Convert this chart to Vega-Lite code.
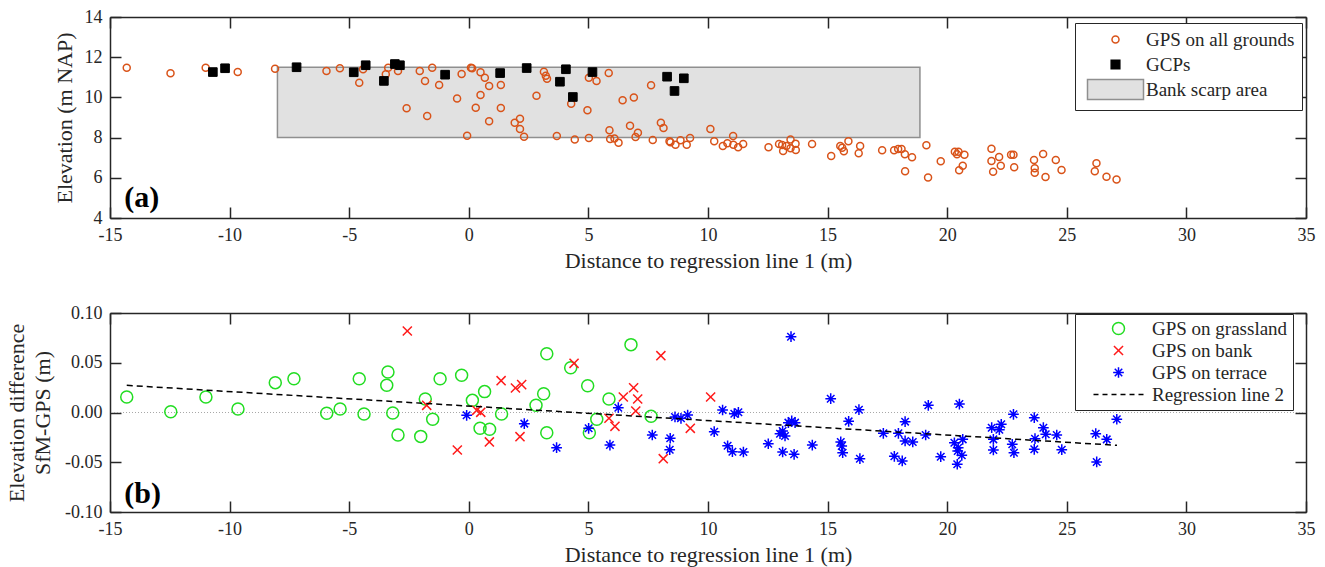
{
  "$schema": "https://vega.github.io/schema/vega-lite/v6.json",
  "padding": {"left": 5, "top": 8, "right": 10, "bottom": 5},
  "spacing": 33,
  "resolve": {"scale": {"fill": "independent", "stroke": "independent", "shape": "independent", "size": "independent"},
    "legend": {"fill": "independent", "stroke": "independent", "shape": "independent", "size": "independent"}},
  "config": {
    "font": "Liberation Serif",
    "view": {"stroke": null},
    "axis": {
      "labelFont": "Liberation Serif", "labelFontSize": 18, "labelColor": "#262626",
      "titleFont": "Liberation Serif", "titleFontSize": 22, "titleFontWeight": "normal", "titleColor": "#262626",
      "domainColor": "#262626", "domainWidth": 1.5, "tickColor": "#262626", "tickWidth": 1.5,
      "tickSize": -11, "grid": false, "labelFlush": false, "labelOverlap": false, "labelPadding": 19
    },
    "legend": {
      "labelFont": "Liberation Serif", "labelFontSize": 19, "labelColor": "#262626",
      "strokeColor": "#262626", "fillColor": "white",
      "symbolStrokeWidth": 1.5, "labelLimit": 400
    }
  },
  "datasets": {
    "gps": [
      {"x": -14.3, "y": 11.48}, {"x": -12.47, "y": 11.2}, {"x": -11.0, "y": 11.48}, {"x": -9.66, "y": 11.26},
      {"x": -8.1, "y": 11.43}, {"x": -5.95, "y": 11.31}, {"x": -5.39, "y": 11.45}, {"x": -4.58, "y": 10.73},
      {"x": -4.42, "y": 11.4}, {"x": -3.47, "y": 11.15}, {"x": -3.37, "y": 11.48}, {"x": -2.96, "y": 11.31},
      {"x": -2.6, "y": 9.46}, {"x": -2.05, "y": 11.31}, {"x": -1.83, "y": 10.82}, {"x": -1.74, "y": 9.07},
      {"x": -1.53, "y": 11.48}, {"x": -1.24, "y": 10.62}, {"x": -0.49, "y": 9.94}, {"x": -0.3, "y": 11.16},
      {"x": -0.07, "y": 8.09}, {"x": 0.09, "y": 11.48}, {"x": 0.14, "y": 11.45}, {"x": 0.29, "y": 9.49},
      {"x": 0.49, "y": 11.25}, {"x": 0.49, "y": 10.12}, {"x": 0.67, "y": 10.98}, {"x": 0.85, "y": 10.57},
      {"x": 0.85, "y": 8.81}, {"x": 1.34, "y": 10.62}, {"x": 1.34, "y": 9.47}, {"x": 1.92, "y": 8.74},
      {"x": 2.14, "y": 8.94}, {"x": 2.14, "y": 8.43}, {"x": 2.31, "y": 8.04}, {"x": 2.83, "y": 10.08},
      {"x": 3.14, "y": 11.28}, {"x": 3.22, "y": 11.08}, {"x": 3.27, "y": 10.93}, {"x": 3.68, "y": 8.08},
      {"x": 4.28, "y": 9.69}, {"x": 4.43, "y": 7.9}, {"x": 4.96, "y": 9.36}, {"x": 5.02, "y": 10.98},
      {"x": 5.02, "y": 7.98}, {"x": 5.34, "y": 10.82}, {"x": 5.85, "y": 11.21}, {"x": 5.88, "y": 8.36},
      {"x": 5.91, "y": 7.93}, {"x": 6.09, "y": 7.96}, {"x": 6.26, "y": 7.75}, {"x": 6.43, "y": 9.86},
      {"x": 6.74, "y": 8.59}, {"x": 6.9, "y": 9.99}, {"x": 6.97, "y": 8.03}, {"x": 7.07, "y": 8.24},
      {"x": 7.62, "y": 10.6}, {"x": 7.69, "y": 7.88}, {"x": 8.03, "y": 8.74}, {"x": 8.14, "y": 8.48},
      {"x": 8.39, "y": 7.82}, {"x": 8.43, "y": 7.77}, {"x": 8.64, "y": 7.65}, {"x": 8.85, "y": 7.87},
      {"x": 9.11, "y": 7.65}, {"x": 9.25, "y": 7.98}, {"x": 10.1, "y": 8.43}, {"x": 10.26, "y": 7.82},
      {"x": 10.62, "y": 7.58}, {"x": 10.81, "y": 7.72}, {"x": 11.05, "y": 8.08}, {"x": 11.06, "y": 7.65},
      {"x": 11.26, "y": 7.52}, {"x": 11.47, "y": 7.68}, {"x": 12.53, "y": 7.52}, {"x": 12.97, "y": 7.68},
      {"x": 13.1, "y": 7.63}, {"x": 13.14, "y": 7.33}, {"x": 13.28, "y": 7.58}, {"x": 13.45, "y": 7.9},
      {"x": 13.45, "y": 7.47}, {"x": 13.66, "y": 7.7}, {"x": 13.67, "y": 7.38}, {"x": 14.35, "y": 7.68},
      {"x": 15.15, "y": 7.08}, {"x": 15.53, "y": 7.58}, {"x": 15.61, "y": 7.5}, {"x": 15.68, "y": 7.32},
      {"x": 15.87, "y": 7.82}, {"x": 16.3, "y": 7.22}, {"x": 16.36, "y": 7.58}, {"x": 17.28, "y": 7.37},
      {"x": 17.78, "y": 7.37}, {"x": 17.95, "y": 7.43}, {"x": 18.09, "y": 7.43}, {"x": 18.23, "y": 7.17},
      {"x": 18.24, "y": 6.32}, {"x": 18.53, "y": 7.02}, {"x": 19.13, "y": 7.62}, {"x": 19.2, "y": 6.02},
      {"x": 19.73, "y": 6.82}, {"x": 20.32, "y": 7.3}, {"x": 20.47, "y": 7.3}, {"x": 20.41, "y": 7.17},
      {"x": 20.72, "y": 7.15}, {"x": 20.65, "y": 6.6}, {"x": 20.5, "y": 6.37}, {"x": 21.85, "y": 7.45},
      {"x": 22.17, "y": 7.03}, {"x": 21.85, "y": 6.84}, {"x": 22.24, "y": 6.6}, {"x": 21.92, "y": 6.3},
      {"x": 22.67, "y": 7.15}, {"x": 22.77, "y": 7.15}, {"x": 22.8, "y": 6.52}, {"x": 23.63, "y": 6.89},
      {"x": 24.01, "y": 7.18}, {"x": 23.66, "y": 6.47}, {"x": 23.66, "y": 6.25}, {"x": 24.11, "y": 6.04},
      {"x": 24.54, "y": 6.89}, {"x": 24.78, "y": 6.39}, {"x": 26.24, "y": 6.72}, {"x": 26.17, "y": 6.32},
      {"x": 26.66, "y": 6.05}, {"x": 27.08, "y": 5.91}
    ],
    "gcp": [
      {"x": -10.7, "y": 11.26}, {"x": -10.19, "y": 11.45}, {"x": -7.2, "y": 11.5}, {"x": -4.81, "y": 11.25},
      {"x": -4.31, "y": 11.6}, {"x": -3.55, "y": 10.82}, {"x": -3.09, "y": 11.66}, {"x": -2.88, "y": 11.6},
      {"x": -0.99, "y": 11.13}, {"x": 1.31, "y": 11.21}, {"x": 2.42, "y": 11.46}, {"x": 3.81, "y": 10.78},
      {"x": 4.06, "y": 11.4}, {"x": 4.35, "y": 10.02}, {"x": 5.17, "y": 11.26}, {"x": 8.29, "y": 11.03},
      {"x": 8.6, "y": 10.32}, {"x": 8.99, "y": 10.95}
    ],
    "scarp": [{"x1": -8.0, "x2": 18.86, "y1": 8.0, "y2": 11.5}],
    "grass": [
      {"x": -14.3, "y": 0.0156}, {"x": -12.46, "y": 0.0008}, {"x": -10.99, "y": 0.0156}, {"x": -9.65, "y": 0.0035},
      {"x": -8.09, "y": 0.030}, {"x": -7.31, "y": 0.034}, {"x": -5.94, "y": -0.0008}, {"x": -5.38, "y": 0.0035},
      {"x": -4.58, "y": 0.034}, {"x": -4.38, "y": -0.0015}, {"x": -3.38, "y": 0.0407}, {"x": -3.43, "y": 0.0273},
      {"x": -3.18, "y": -0.0005}, {"x": -2.96, "y": -0.0226}, {"x": -2.01, "y": -0.024}, {"x": -1.82, "y": 0.0136},
      {"x": -1.51, "y": -0.0068}, {"x": -1.2, "y": 0.034}, {"x": -0.3, "y": 0.0374}, {"x": 0.15, "y": 0.0122},
      {"x": 0.66, "y": 0.021}, {"x": 0.47, "y": -0.0159}, {"x": 0.87, "y": -0.0169}, {"x": 1.37, "y": -0.0015},
      {"x": 2.81, "y": 0.0072}, {"x": 3.13, "y": 0.0189}, {"x": 3.26, "y": 0.0591}, {"x": 3.26, "y": -0.0203},
      {"x": 4.26, "y": 0.045}, {"x": 4.97, "y": 0.0269}, {"x": 5.04, "y": -0.0203}, {"x": 5.35, "y": -0.0068},
      {"x": 5.86, "y": 0.0136}, {"x": 6.78, "y": 0.0682}, {"x": 7.62, "y": -0.0038}
    ],
    "bank": [
      {"x": -2.57, "y": 0.0819}, {"x": -1.76, "y": 0.0072}, {"x": -0.48, "y": -0.0377}, {"x": 0.33, "y": 0.0022},
      {"x": 0.5, "y": 0.0002}, {"x": 0.86, "y": -0.0296}, {"x": 1.35, "y": 0.032}, {"x": 1.95, "y": 0.0246},
      {"x": 2.21, "y": 0.028}, {"x": 2.14, "y": -0.0243}, {"x": 4.4, "y": 0.0494}, {"x": 8.03, "y": 0.0571},
      {"x": 6.89, "y": 0.0249}, {"x": 6.46, "y": 0.0156}, {"x": 7.06, "y": 0.0136}, {"x": 6.98, "y": 0.0015},
      {"x": 5.86, "y": -0.0058}, {"x": 6.11, "y": -0.0139}, {"x": 10.11, "y": 0.0156}, {"x": 9.26, "y": -0.0159},
      {"x": 8.13, "y": -0.0464}
    ],
    "terrace": [
      {"x": -0.09, "y": -0.0028}, {"x": 2.32, "y": -0.0112}, {"x": 3.67, "y": -0.0354}, {"x": 5.01, "y": -0.0159},
      {"x": 6.25, "y": 0.0048}, {"x": 5.9, "y": -0.0327}, {"x": 7.67, "y": -0.0226}, {"x": 8.42, "y": -0.0259},
      {"x": 8.4, "y": -0.0374}, {"x": 8.62, "y": -0.0045}, {"x": 8.87, "y": -0.0058}, {"x": 9.15, "y": -0.0025},
      {"x": 10.26, "y": -0.0193}, {"x": 10.61, "y": 0.0025}, {"x": 11.1, "y": -0.0012}, {"x": 11.27, "y": 0.0002},
      {"x": 10.82, "y": -0.0334}, {"x": 11.02, "y": -0.0394}, {"x": 11.48, "y": -0.0397}, {"x": 12.52, "y": -0.0314},
      {"x": 13.47, "y": 0.0762}, {"x": 15.13, "y": 0.0139}, {"x": 16.31, "y": 0.0028}, {"x": 15.88, "y": -0.0089},
      {"x": 18.24, "y": -0.0092}, {"x": 19.21, "y": 0.0072}, {"x": 20.51, "y": 0.0085}, {"x": 13.5, "y": -0.0085},
      {"x": 13.64, "y": -0.0102}, {"x": 13.36, "y": -0.0102}, {"x": 13.12, "y": -0.0186}, {"x": 13.01, "y": -0.0213},
      {"x": 13.22, "y": -0.0236}, {"x": 13.12, "y": -0.0397}, {"x": 13.6, "y": -0.042}, {"x": 14.36, "y": -0.0327},
      {"x": 15.55, "y": -0.0296}, {"x": 15.59, "y": -0.0337}, {"x": 15.63, "y": -0.0404}, {"x": 16.35, "y": -0.0464},
      {"x": 17.33, "y": -0.0209}, {"x": 17.96, "y": -0.0209}, {"x": 18.24, "y": -0.0286}, {"x": 18.56, "y": -0.0296},
      {"x": 17.79, "y": -0.044}, {"x": 18.12, "y": -0.0487}, {"x": 19.1, "y": -0.0226}, {"x": 19.73, "y": -0.0444},
      {"x": 20.3, "y": -0.0304}, {"x": 20.46, "y": -0.0354}, {"x": 20.65, "y": -0.027}, {"x": 20.61, "y": -0.043},
      {"x": 20.42, "y": -0.052}, {"x": 20.44, "y": -0.0387}, {"x": 21.86, "y": -0.0153}, {"x": 21.93, "y": -0.027},
      {"x": 21.93, "y": -0.0377}, {"x": 22.18, "y": -0.0173}, {"x": 22.26, "y": -0.0119}, {"x": 22.77, "y": -0.0018},
      {"x": 22.72, "y": -0.032}, {"x": 22.79, "y": -0.0404}, {"x": 23.64, "y": -0.0052}, {"x": 23.67, "y": -0.0263},
      {"x": 23.64, "y": -0.037}, {"x": 24.02, "y": -0.0153}, {"x": 24.12, "y": -0.0219}, {"x": 24.58, "y": -0.0226},
      {"x": 24.79, "y": -0.0374}, {"x": 26.21, "y": -0.0213}, {"x": 26.25, "y": -0.0497}, {"x": 26.67, "y": -0.027},
      {"x": 27.09, "y": -0.0068}
    ],
    "reg": [{"x": -14.3, "y": 0.0273}, {"x": 27.1, "y": -0.033}]
  },
  "vconcat": [
    {
      "width": 1196,
      "height": 201,
      "resolve": {"axis": {"x": "independent", "y": "independent"}},
      "layer": [
        {
          "data": {"name": "scarp"},
          "mark": {"type": "rect", "fill": "#e1e1e1", "stroke": "#8f8f8f", "strokeWidth": 1.5},
          "encoding": {
            "x": {"field": "x1", "type": "quantitative", "scale": {"domain": [-15, 35], "nice": false, "zero": false},
              "axis": {"orient": "bottom", "values": [-15, -10, -5, 0, 5, 10, 15, 20, 25, 30, 35], "title": "Distance to regression line 1 (m)", "titlePadding": 6,
                "labelExpr": "datum.value < 0 ? '-' + (-datum.value) : '' + datum.value"}},
            "x2": {"field": "x2"},
            "y": {"field": "y1", "type": "quantitative", "scale": {"domain": [4, 14], "nice": false, "zero": false},
              "axis": {"orient": "left", "values": [4, 6, 8, 10, 12, 14], "title": "Elevation (m NAP)", "titlePadding": 8}},
            "y2": {"field": "y2"}
          }
        },
        {
          "data": {"name": "gps"},
          "transform": [{"calculate": "'GPS on all grounds'", "as": "series"}],
          "mark": {"type": "point", "strokeWidth": 1.5, "opacity": 1},
          "encoding": {
            "x": {"field": "x", "type": "quantitative", "axis": {"orient": "top", "values": [-15, -10, -5, 0, 5, 10, 15, 20, 25, 30, 35], "labels": false, "title": null}},
            "y": {"field": "y", "type": "quantitative", "axis": {"orient": "right", "values": [4, 6, 8, 10, 12, 14], "labels": false, "title": null}},
            "fill": {"field": "series", "type": "nominal", "scale": {"domain": ["GPS on all grounds", "GCPs", "Bank scarp area"], "range": ["transparent", "black", "#e1e1e1"]},
              "legend": {"title": null, "orient": "none", "legendX": 965, "legendY": 6, "padding": 7, "symbolOffset": 24, "labelOffset": 21, "rowPadding": -2, "gridAlign": "all"}},
            "stroke": {"field": "series", "type": "nominal", "scale": {"domain": ["GPS on all grounds", "GCPs", "Bank scarp area"], "range": ["#d95319", "black", "#8f8f8f"]},
              "legend": {"title": null, "orient": "none", "legendX": 965, "legendY": 6, "padding": 7, "symbolOffset": 24, "labelOffset": 21, "rowPadding": -2, "gridAlign": "all"}},
            "shape": {"field": "series", "type": "nominal", "scale": {"domain": ["GPS on all grounds", "GCPs", "Bank scarp area"], "range": ["circle", "square", "M-5.6,-2H5.6V2H-5.6Z"]},
              "legend": {"title": null, "orient": "none", "legendX": 965, "legendY": 6, "padding": 7, "symbolOffset": 24, "labelOffset": 21, "rowPadding": -2, "gridAlign": "all"}},
            "size": {"field": "series", "type": "nominal", "scale": {"domain": ["GPS on all grounds", "GCPs", "Bank scarp area"], "range": [49, 100, 100]},
              "legend": {"title": null, "orient": "none", "legendX": 965, "legendY": 6, "padding": 7, "symbolOffset": 24, "labelOffset": 21, "rowPadding": -2, "gridAlign": "all"}}
          }
        },
        {
          "data": {"name": "gcp"},
          "transform": [{"calculate": "'GCPs'", "as": "series"}],
          "mark": {"type": "point", "strokeWidth": 1, "opacity": 1},
          "encoding": {
            "x": {"field": "x", "type": "quantitative", "axis": null},
            "y": {"field": "y", "type": "quantitative", "axis": null},
            "fill": {"field": "series", "type": "nominal"},
            "stroke": {"field": "series", "type": "nominal"},
            "shape": {"field": "series", "type": "nominal"},
            "size": {"field": "series", "type": "nominal"}
          }
        },
        {
          "data": {"values": [{"x": -14.4, "y": 5.0, "t": "(a)"}]},
          "mark": {"type": "text", "font": "Liberation Serif", "fontSize": 30, "fontWeight": "bold", "align": "left", "baseline": "middle", "color": "black"},
          "encoding": {
            "x": {"field": "x", "type": "quantitative", "axis": null},
            "y": {"field": "y", "type": "quantitative", "axis": null},
            "text": {"field": "t"}
          }
        }
      ]
    },
    {
      "width": 1196,
      "height": 199,
      "resolve": {"axis": {"x": "independent", "y": "independent"}},
      "layer": [
        {
          "data": {"values": [{"y0": 0}]},
          "mark": {"type": "rule", "stroke": "#a8a8a8", "strokeWidth": 1, "strokeDash": [1, 2]},
          "encoding": {
            "y": {"field": "y0", "type": "quantitative", "scale": {"domain": [-0.1, 0.1], "nice": false, "zero": false}, "axis": null}
          }
        },
        {
          "data": {"name": "grass"},
          "transform": [{"calculate": "'GPS on grassland'", "as": "series"}],
          "mark": {"type": "point", "filled": false, "strokeWidth": 1.5, "opacity": 1},
          "encoding": {
            "x": {"field": "x", "type": "quantitative", "scale": {"domain": [-15, 35], "nice": false, "zero": false},
              "axis": {"orient": "bottom", "values": [-15, -10, -5, 0, 5, 10, 15, 20, 25, 30, 35], "title": "Distance to regression line 1 (m)", "titlePadding": 6,
                "labelExpr": "datum.value < 0 ? '-' + (-datum.value) : '' + datum.value"}},
            "y": {"field": "y", "type": "quantitative",
              "axis": {"orient": "left", "values": [-0.1, -0.05, 0, 0.05, 0.1], "title": ["Elevation difference", "SfM-GPS (m)"], "titleLineHeight": 26, "titlePadding": 10,
                "labelExpr": "datum.value < 0 ? '-' + format(-datum.value, '.2f') : format(datum.value, '.2f')"}},
            "stroke": {"field": "series", "type": "nominal", "scale": {"domain": ["GPS on grassland", "GPS on bank", "GPS on terrace", "Regression line 2"], "range": ["#22dd22", "#ff1a1a", "#0000ff", "black"]},
              "legend": {"title": null, "orient": "none", "legendX": 965, "legendY": 1, "padding": 5, "symbolOffset": 29, "labelOffset": 24, "rowPadding": 2, "symbolFillColor": "transparent"}},
            "shape": {"field": "series", "type": "nominal", "scale": {"domain": ["GPS on grassland", "GPS on bank", "GPS on terrace", "Regression line 2"],
                "range": ["circle", "M-0.8,-0.8L0.8,0.8M-0.8,0.8L0.8,-0.8", "M-1,0H1M0,-1V1M-0.7,-0.7L0.7,0.7M-0.7,0.7L0.7,-0.7", "M-5,0H-4M-3.2,0H-2.2M-1.4,0H-0.4M0.4,0H1.4M2.2,0H3.2M4,0H5"]},
              "legend": {"title": null, "orient": "none", "legendX": 965, "legendY": 1, "padding": 5, "symbolOffset": 29, "labelOffset": 24, "rowPadding": 2, "symbolFillColor": "transparent"}},
            "size": {"field": "series", "type": "nominal", "scale": {"domain": ["GPS on grassland", "GPS on bank", "GPS on terrace", "Regression line 2"], "range": [144, 100, 150, 144]},
              "legend": {"title": null, "orient": "none", "legendX": 965, "legendY": 1, "padding": 5, "symbolOffset": 29, "labelOffset": 24, "rowPadding": 2, "symbolFillColor": "transparent"}}
          }
        },
        {
          "data": {"name": "bank"},
          "transform": [{"calculate": "'GPS on bank'", "as": "series"}],
          "mark": {"type": "point", "filled": false, "strokeWidth": 1.5, "opacity": 1},
          "encoding": {
            "x": {"field": "x", "type": "quantitative", "axis": null},
            "y": {"field": "y", "type": "quantitative", "axis": null},
            "stroke": {"field": "series", "type": "nominal"},
            "shape": {"field": "series", "type": "nominal"},
            "size": {"field": "series", "type": "nominal"}
          }
        },
        {
          "data": {"name": "terrace"},
          "transform": [{"calculate": "'GPS on terrace'", "as": "series"}],
          "mark": {"type": "point", "filled": false, "strokeWidth": 1.5, "opacity": 1},
          "encoding": {
            "x": {"field": "x", "type": "quantitative", "axis": null},
            "y": {"field": "y", "type": "quantitative", "axis": null},
            "stroke": {"field": "series", "type": "nominal"},
            "shape": {"field": "series", "type": "nominal"},
            "size": {"field": "series", "type": "nominal"}
          }
        },
        {
          "data": {"name": "reg"},
          "mark": {"type": "line", "stroke": "black", "strokeWidth": 1.5, "strokeDash": [6, 4]},
          "encoding": {
            "x": {"field": "x", "type": "quantitative", "axis": {"orient": "top", "values": [-15, -10, -5, 0, 5, 10, 15, 20, 25, 30, 35], "labels": false, "title": null}},
            "y": {"field": "y", "type": "quantitative", "axis": {"orient": "right", "values": [-0.1, -0.05, 0, 0.05, 0.1], "labels": false, "title": null}}
          }
        },
        {
          "data": {"values": [{"x": -14.4, "y": -0.082, "t": "(b)"}]},
          "mark": {"type": "text", "font": "Liberation Serif", "fontSize": 30, "fontWeight": "bold", "align": "left", "baseline": "middle", "color": "black"},
          "encoding": {
            "x": {"field": "x", "type": "quantitative", "axis": null},
            "y": {"field": "y", "type": "quantitative", "axis": null},
            "text": {"field": "t"}
          }
        }
      ]
    }
  ]
}
